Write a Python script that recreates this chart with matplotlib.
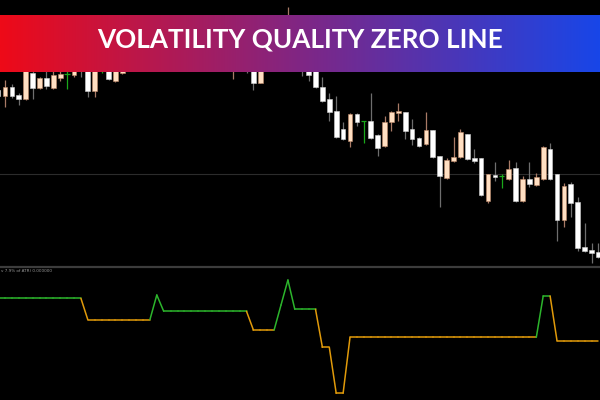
import numpy as np
import matplotlib
matplotlib.use("Agg")
import matplotlib.pyplot as plt
from matplotlib.lines import Line2D

# candle data (price units), one entry per bar
kind = list("WPWWPWPWPP" "GPWWPGWPPW" "PPWPWPWPPW" "WPWPPWWWPP" "PWPWWWWWWW"
            "WPWGWWPPPW" "WWPWWPPPWW" "WPWGPWPWPP" "WWPWWWWW")
opens = [210, 204, 213.3, 205, 201.3, 226.7, 212.3, 221.7, 212.3, 222.3, 226, 225, 236, 238, 209.3, 242,
         244, 219, 227.3, 248, 236, 248, 258, 250, 264, 250, 260, 254, 264, 268, 258, 246, 252, 238,
         234, 246, 248, 244, 217.3, 238, 254, 272, 266, 274, 260, 244, 238, 213.3, 200.7, 189, 171,
         159, 186, 179, 179, 164.7, 154, 178.3, 186.7, 187.7, 171, 161.7, 156, 170, 144, 122.3, 139.3,
         142.7, 166, 141.7, 141.7, 99, 125, 123.7, 120.7, 132.3, 99, 121, 115.3, 121.3, 150.7, 125.7,
         79.7, 116, 97.7, 52.7, 50, 47.7]
highs = [214, 220, 216, 207, 238, 230, 223.3, 234, 232, 230, 235, 234, 240, 242, 240, 250,
         248, 246, 250, 252, 256, 260, 262, 270, 268, 266, 264, 270, 274, 272, 262, 260, 256, 258,
         254, 252, 260, 250, 248, 260, 270, 276, 293, 278, 266, 250, 244, 223.3, 206.7, 204, 178.3,
         187, 187, 179, 206.7, 166, 184, 189.3, 197.3, 188.5, 181, 163.3, 187.7, 170.5, 144.5, 142, 163.3,
         170.7, 166.5, 151, 142.5, 126.5, 138.3, 125.7, 140, 138.3, 124, 138.3, 126.7, 154, 157.3, 126.5,
         117.3, 118, 103.3, 76.7, 56.7, 56.7]
lows = [201, 193.3, 202, 195, 200.5, 201.3, 211.5, 211, 211.5, 219.3, 211, 222.7, 222.7, 203.3, 203.3, 227.5,
        220, 218, 226.5, 232, 233, 245, 244, 248, 246, 244, 248, 250, 260, 252, 242, 240, 236, 234,
        221, 234, 227.5, 210, 217, 234, 250, 256, 262, 252, 224.3, 219.3, 212, 198.3, 179.3, 162.5, 160,
        153.3, 174, 156.7, 161.5, 144, 153, 169.3, 179.3, 161, 155, 153.3, 155, 142, 92.7, 121.5, 138.5,
        142, 140.5, 137.3, 104, 96.7, 119.3, 112.3, 120, 98.5, 98.5, 112.7, 114.5, 120, 120.5, 59.3,
        73.3, 83.3, 49.3, 48.5, 37.3, 42]
closes = [204, 213.3, 204, 201.3, 236, 212.3, 221.7, 214, 225, 226, 226, 230, 230, 209.3, 236, 242,
          220.7, 242, 245, 236, 250, 256, 250, 266, 252, 260, 254, 266, 270, 256, 248, 254, 240, 250,
          248, 240, 232, 217.3, 240, 256, 266, 260, 280, 258, 238, 225, 212.7, 199.3, 188.3, 163.3, 160.7,
          186, 178.3, 179, 162.3, 152.3, 178.3, 187.7, 189.3, 169, 161, 154, 170, 142.7, 124.3, 140, 143.3,
          167.7, 141.3, 139.3, 105, 125.7, 122.7, 123.7, 130.7, 99, 121, 115.7, 123, 153.3, 121.3, 79.7,
          114.3, 97.3, 51.7, 49, 47.3, 42.7]

# indicator values and trend state per bar
vq = [101.7] * 13 + [80.3] * 10 + [105] + [88.7] * 13 + [70] * 4 + [95, 120] + [90.7] * 4 \
     + [52.7, 52.7, 6.7, 6.7] + [62.7] * 28 + [104, 104] + [59.3] * 7
trend = ["up"] * 13 + ["dn"] * 10 + ["up"] * 14 + ["dn"] * 4 + ["up"] * 6 + ["dn"] * 32 + ["up"] * 2 + ["dn"] * 7

title = "VOLATILITY QUALITY ZERO LINE"
label = "v 7.9% of ATR) 0.000000"

body_col = {"W": "#ffffff", "P": "#ffdfc2", "G": "#1aa81a"}
wick_col = {"W": "#6e6e6e", "P": "#a87a66", "G": "#1aa81a"}
edge_col = {"W": "#d0d0d0", "P": "#c08a6a", "G": "#1aa81a"}

fig = plt.figure(figsize=(6, 4), dpi=100, facecolor="black")
H = 400.0

# main price pane
ax = fig.add_axes([0, 1 - 266 / H, 1, 266 / H], facecolor="black")
x = np.arange(len(opens))
ax.axhline(125.7, color="#2c2c2c", lw=0.8, zorder=0)
for i in x:
    k = kind[i]
    ax.vlines(i, lows[i], highs[i], color=wick_col[k], lw=0.9, zorder=1)
    lo, hi = min(opens[i], closes[i]), max(opens[i], closes[i])
    if k == "G" or hi - lo < 0.5:
        ax.hlines(opens[i], i - 0.38, i + 0.38, color=body_col[k], lw=0.9, zorder=2)
    else:
        ax.bar(i, hi - lo, bottom=lo, width=0.68, color=body_col[k],
               edgecolor=edge_col[k], linewidth=0.4, zorder=2)
ax.set_xlim(0.275, 87.23)
ax.set_ylim(34, 300)
ax.axis("off")

# separator between panes
fig.add_artist(Line2D([0, 1], [1 - 266.6 / H] * 2, color="#3c3c3c", lw=1.6))

# indicator pane
ax2 = fig.add_axes([0, 0, 1, 132 / H], facecolor="black")
for i in range(1, len(vq)):
    c = "#2cb52c" if trend[i] == "up" else "#e19a0a"
    ax2.plot([i - 1, i], [vq[i - 1], vq[i]], color=c, lw=1.1, solid_capstyle="round")
ax2.set_xlim(0.275, 87.23)
ax2.set_ylim(0, 132)
ax2.axis("off")
fig.text(0.002, 1 - 271 / H, label, color="#9a9a9a", fontsize=3, va="center", ha="left")

# gradient banner with title
bax = fig.add_axes([0, 1 - 71.7 / H, 1, 57 / H])
t = np.linspace(0, 1, 256)
left = np.array([238, 10, 24]) / 255
mid = np.array([128, 38, 132]) / 255
right = np.array([24, 70, 232]) / 255
grad = np.where(t[:, None] < 0.5,
                left + (mid - left) * (t[:, None] / 0.5),
                mid + (right - mid) * ((t[:, None] - 0.5) / 0.5))
bax.imshow(grad[None, :, :], aspect="auto", extent=[0, 1, 0, 1])
bax.set_xlim(0, 1)
bax.set_ylim(0, 1)
bax.axis("off")
bax.text(0.5, 0.56, title, color="white", fontsize=18.8, fontweight="bold",
         family=["Lato", "DejaVu Sans"], ha="center", va="center")

fig.savefig("out.png", dpi=100, facecolor="black")
